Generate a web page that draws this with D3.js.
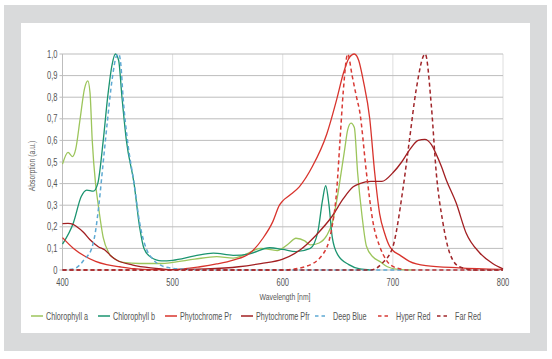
<!DOCTYPE html>
<html>
<head>
<meta charset="utf-8">
<script src="https://cdn.jsdelivr.net/npm/d3@7"></script>
<style>
  html, body { margin: 0; padding: 0; background: #fff; }
  svg text { font-family: "Liberation Sans", Arial, sans-serif; fill: #555; }
</style>
</head>
<body>
<svg id="chart" width="552" height="359"></svg>
<script>
// absorption spectra, [wavelength nm, absorption a.u.]
const chlorophyllA = [[400,0.49],[405,0.545],[409,0.525],[412,0.56],[416,0.7],[420,0.84],[423,0.876],[425,0.82],[427,0.6],[430,0.4],[432.5,0.3],[437,0.15],[442,0.08],[448,0.05],[455,0.035],[470,0.03],[490,0.03],[500,0.035],[520,0.05],[540,0.062],[555,0.055],[565,0.07],[580,0.1],[595,0.09],[605,0.12],[612,0.147],[620,0.135],[625,0.116],[633,0.125],[640,0.16],[645,0.22],[650,0.35],[653,0.45],[656,0.55],[659,0.65],[662,0.68],[665,0.66],[668,0.45],[672,0.25],[676,0.11],[682,0.06],[688,0.04],[695,0.015],[705,0.003],[720,0]];
const chlorophyllB = [[400,0.12],[410,0.22],[417,0.34],[422,0.37],[428,0.365],[432,0.4],[437,0.6],[441,0.8],[445,0.95],[448,1.0],[451,0.97],[454,0.8],[458,0.6],[465,0.4],[470,0.2],[474,0.1],[480,0.06],[490,0.042],[500,0.045],[520,0.065],[537,0.078],[555,0.068],[570,0.075],[588,0.103],[600,0.095],[612,0.085],[625,0.1],[632,0.18],[636,0.32],[639,0.39],[642,0.3],[645,0.15],[650,0.07],[660,0.025],[670,0.005],[680,0]];
const phytochromePr = [[400,0.15],[410,0.1],[420,0.065],[430,0.04],[440,0.025],[452,0.015],[465,0.006],[480,0.002],[500,0.002],[525,0.015],[540,0.028],[555,0.046],[570,0.077],[582,0.147],[591,0.224],[597,0.3],[600,0.32],[606,0.345],[615,0.385],[627,0.48],[640,0.63],[649,0.79],[655,0.91],[660,0.98],[665,1.0],[669,0.97],[673,0.88],[679,0.7],[683.5,0.45],[688,0.26],[692.5,0.17],[697,0.11],[700,0.09],[706,0.07],[715,0.04],[730,0.02],[760,0.01],[800,0.003]];
const phytochromePfr = [[400,0.215],[405,0.216],[410,0.21],[413,0.2],[419,0.175],[425,0.14],[432.5,0.108],[438.5,0.093],[444,0.065],[449,0.046],[464,0.023],[480,0.01],[490,0.005],[500,0.002],[530,0.005],[560,0.015],[580,0.03],[600,0.05],[615,0.09],[630,0.16],[645,0.25],[655,0.33],[664,0.385],[670,0.4],[680,0.41],[690,0.41],[700,0.45],[708,0.5],[715,0.555],[723,0.6],[729,0.605],[735,0.58],[739,0.54],[744,0.48],[748.5,0.417],[757.5,0.31],[766.6,0.17],[778.7,0.08],[790.6,0.03],[800,0.005]];
const deepBlue = [[400,0],[410,0.005],[415,0.02],[420,0.05],[426.5,0.1],[430,0.18],[433,0.3],[437,0.5],[441,0.7],[445,0.88],[449,0.99],[451,1.0],[453,0.95],[455,0.8],[459,0.6],[465,0.4],[470,0.22],[476,0.1],[482,0.05],[490,0.02],[500,0.008],[515,0.002],[530,0],[800,0]];
const hyperRed = [[400,0],[600,0],[620,0.015],[636,0.07],[644,0.18],[649,0.37],[652,0.6],[655,0.83],[659,1.0],[663,0.9],[667,0.8],[670,0.73],[676,0.45],[682,0.22],[688,0.11],[694,0.046],[703,0.01],[715,0],[800,0]];
const farRed = [[400,0],[680,0],[690,0.03],[700,0.108],[709,0.37],[715,0.6],[721,0.83],[729.4,1.0],[735,0.756],[739.4,0.45],[745.4,0.22],[751.5,0.08],[760.5,0.015],[775,0],[800,0]];

const seriesNames = ["Chlorophyll a", "Chlorophyll b", "Phytochrome Pr", "Phytochrome Pfr", "Deep Blue", "Hyper Red", "Far Red"];
const seriesData = [chlorophyllA, chlorophyllB, phytochromePr, phytochromePfr, deepBlue, hyperRed, farRed];
const seriesColors = ["#9cc55b", "#1b9470", "#d8342d", "#a21f22", "#5ea9d3", "#d83a35", "#a0262a"];
const seriesDashed = [false, false, false, false, true, true, true];

const xTicks = [400, 500, 600, 700, 800];
const yTicks = [0, 0.1, 0.2, 0.3, 0.4, 0.5, 0.6, 0.7, 0.8, 0.9, 1.0];

const narrow = 0.72; // the original uses a condensed face

const svg = d3.select("#chart");

// gray frame + white card
svg.append("rect").attr("x", 4).attr("y", 5).attr("width", 543).attr("height", 346).attr("fill", "#d9dadb");
svg.append("rect").attr("x", 21).attr("y", 23).attr("width", 509).attr("height", 310).attr("fill", "#fff");

const margin = { top: 54, left: 62.5, right: 503, bottom: 270 };
const x = d3.scaleLinear().domain([400, 800]).range([margin.left, margin.right]);
const y = d3.scaleLinear().domain([0, 1]).range([margin.bottom, margin.top]);

// vertical grid
svg.append("g").selectAll("line").data(xTicks.slice(1)).join("line")
  .attr("x1", d => x(d)).attr("x2", d => x(d))
  .attr("y1", y(0)).attr("y2", y(1))
  .attr("stroke", "#dedede").attr("stroke-width", 1);

// horizontal grid
svg.append("g").selectAll("line").data(yTicks).join("line")
  .attr("x1", x(400) - 3).attr("x2", x(800))
  .attr("y1", d => y(d)).attr("y2", d => y(d))
  .attr("stroke", "#bdbdbd").attr("stroke-width", 1);

svg.append("line").attr("x1", x(400)).attr("x2", x(400)).attr("y1", y(0)).attr("y2", y(1))
  .attr("stroke", "#bdbdbd");

// y labels
svg.append("g").selectAll("text").data(yTicks).join("text")
  .attr("transform", d => `translate(${x(400) - 5},${y(d)}) scale(${narrow},1)`)
  .attr("dy", "0.35em")
  .attr("text-anchor", "end").style("font-size", "10.5px")
  .text(d => d3.format(".1f")(d).replace(".", ",").replace(/^0,0$/, "0"));

// x labels
svg.append("g").selectAll("text").data(xTicks).join("text")
  .attr("transform", d => `translate(${x(d)},286) scale(${narrow},1)`)
  .attr("text-anchor", "middle").style("font-size", "10.5px")
  .text(d => d);

svg.append("text").attr("transform", `translate(285,300) scale(${narrow},1)`).attr("text-anchor", "middle")
  .style("font-size", "9.5px").text("Wavelength [nm]");

svg.append("text").attr("transform", `translate(35,166) rotate(-90) scale(${narrow},1)`).attr("text-anchor", "middle")
  .style("font-size", "9.5px").text("Absorption (a.u.)");

const line = d3.line().x(d => x(d[0])).y(d => y(d[1])).curve(d3.curveMonotoneX);

svg.append("g").attr("fill", "none").selectAll("path").data(seriesData).join("path")
  .attr("d", line)
  .attr("stroke", (d, i) => seriesColors[i])
  .attr("stroke-width", (d, i) => seriesDashed[i] ? 1.5 : 1.3)
  .attr("stroke-dasharray", (d, i) => seriesDashed[i] ? "4,3" : null);

// legend
const legendX = [31, 98, 165, 241, 315, 378, 437];
const lg = svg.append("g").selectAll("g").data(seriesNames).join("g")
  .attr("transform", (d, i) => `translate(${legendX[i]},316)`);
lg.append("line").attr("x1", 0).attr("x2", 12).attr("y1", 0).attr("y2", 0)
  .attr("stroke", (d, i) => seriesColors[i]).attr("stroke-width", 1.5)
  .attr("stroke-dasharray", (d, i) => seriesDashed[i] ? "3.5,3" : null);
lg.append("text")
  .attr("transform", (d, i) => `translate(${seriesDashed[i] ? 18 : 15},0) scale(${narrow},1)`)
  .attr("dy", "0.35em")
  .style("font-size", "10px").text(d => d);
</script>
</body>
</html>
